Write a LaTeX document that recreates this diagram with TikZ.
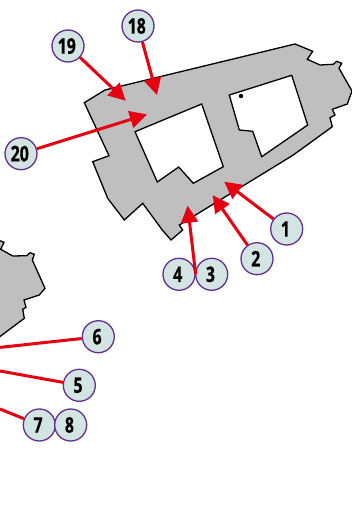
\documentclass[tikz,border=0pt]{standalone}
\usepackage{fontspec}
\usetikzlibrary{arrows.meta}
\newfontfamily\numfont[FakeStretch=0.74,BoldFeatures={FakeStretch=0.74,FakeBold=0.6}]{Open Sans}
\definecolor{wallgray}{HTML}{BFBFBF}
\definecolor{bubblefill}{HTML}{D3E5E3}
\definecolor{bubbleline}{HTML}{662D91}
\definecolor{arrowred}{HTML}{E60012}
\tikzset{
    wall/.style={draw=black,fill=wallgray,line width=1.3pt,even odd rule,line join=miter},
    numbub/.style={circle,draw=bubbleline,fill=bubblefill,line width=1.3pt,minimum size=32pt,inner sep=0pt,font=\numfont\bfseries\fontsize{21.5}{21.5}\selectfont\kern-2.5pt},
    pointer/.style={draw=arrowred,line width=3pt,-{Triangle[length=17pt,width=17pt]},shorten >=-1pt},
    leader/.style={draw=arrowred,line width=3pt}
}
\begin{document}
\begin{tikzpicture}[x=1pt,y=-1pt]
    \useasboundingbox (0,0) rectangle (352,513);
    % main block with its two courts
    \draw[wall] (84.3,102.7) -- (105,90) -- (295,44) -- (312.7,51.3) -- (307.3,59.3) -- (320,65)
        -- (333.3,64.3) -- (336.7,61.3) -- (341.7,63.3) -- (339,68.3) -- (352,91) -- (347.3,104)
        -- (332.3,109.3) -- (335,115) -- (330,117.7) -- (332.3,126.7) -- (293.3,155)
        -- (179.3,225) -- (182.7,230) -- (171,240) -- (162.3,230) -- (142.7,203.3) -- (124.3,220)
        -- (107.7,198.3) -- (92.7,161.7) -- (109,155.7) -- cycle
        (135,131.7) -- (201.7,104) -- (223.3,166.7) -- (193.3,183.3) -- (178.7,167) -- (157.3,182) -- cycle
        (229.3,95) -- (291.7,75.3) -- (307.7,125) -- (261.7,156.7) -- (252.7,131.3) -- (239.3,130) -- cycle;
    \fill[black] (241,96) circle (2.2pt);
    % piece cut by the left edge
    \draw[wall] (-2,240) -- (4,242.3) -- (0.7,249.3) -- (12.7,256) -- (26.7,255.7) -- (30,252.7)
        -- (34.3,254.3) -- (32.3,260) -- (45,288.3) -- (39.3,295) -- (24,300) -- (26,307.3)
        -- (22.7,309.3) -- (24.3,318.3) -- (-2,338);
    % arrow ends
    \coordinate (tipa) at (225,182.3);
    \coordinate (tipb) at (213.3,196);
    \coordinate (tipc) at (187.7,206.7);
    \coordinate (tipd) at (156.7,94);
    \coordinate (tipe) at (125,100);
    \coordinate (tipf) at (146,114.7);
    \coordinate (edgea) at (0,347.4);
    \coordinate (edgeb) at (0,371);
    \coordinate (edgec) at (0,409);
    % number bubbles
    \node[numbub] (numa) at (286.7,229) {1};
    \node[numbub] (numb) at (257,258.7) {2};
    \node[numbub] (numc) at (211.7,274.3) {3};
    \node[numbub] (numd) at (179,274.3) {4};
    \node[numbub] (nume) at (79.3,385.3) {5};
    \node[numbub] (numf) at (98.3,336.7) {6};
    \node[numbub] (numg) at (39.3,425) {7};
    \node[numbub] (numh) at (70.7,425) {8};
    \node[numbub] (numr) at (138,26) {18};
    \node[numbub] (nums) at (68,46) {19};
    \node[numbub] (numt) at (21,153.7) {20};
    % pointers
    \draw[pointer] (numa) -- (tipa);
    \draw[pointer] (numb) -- (tipb);
    \draw[pointer] (numd.east) -- (tipc);
    \draw[pointer] (numr) -- (tipd);
    \draw[pointer] (nums) -- (tipe);
    \draw[pointer] (numt) -- (tipf);
    \draw[leader] (nume) -- (edgeb);
    \draw[leader] (numf) -- (edgea);
    \draw[leader] (numg) -- (edgec);
\end{tikzpicture}
\end{document}
